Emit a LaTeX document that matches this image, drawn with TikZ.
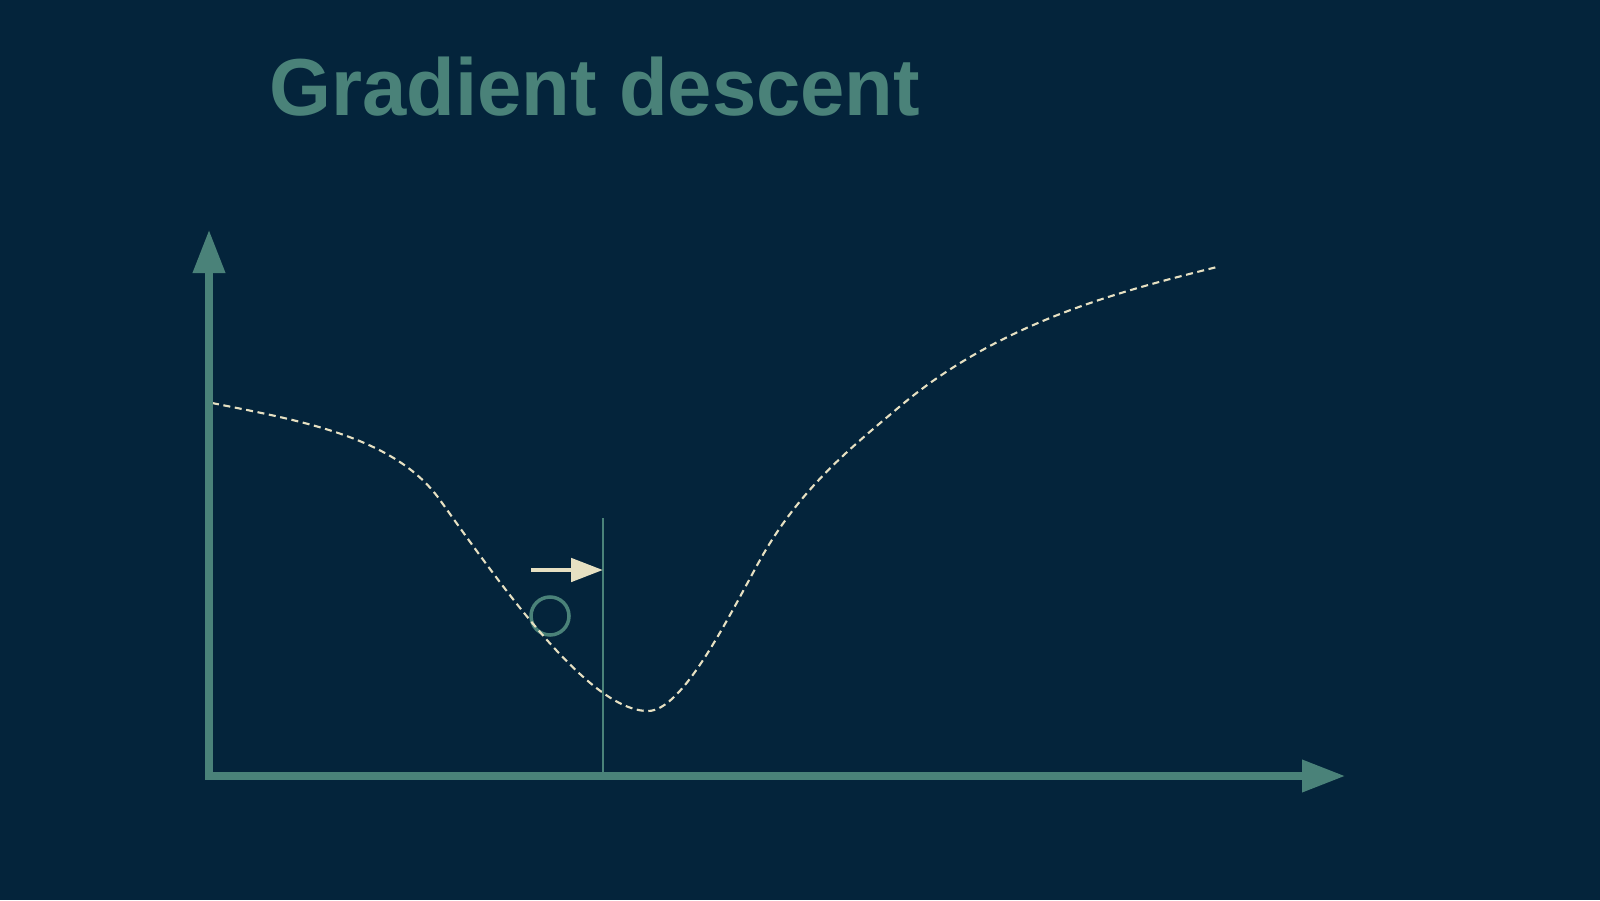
\documentclass[tikz,border=0pt]{standalone}
\usepackage{fontspec}
\setmainfont{Liberation Sans}
\usepackage{xcolor}
\usetikzlibrary{arrows.meta, positioning}
\definecolor{navy}{HTML}{04243B}
\definecolor{teal}{HTML}{4A8279}
\definecolor{cream}{HTML}{E6E0C2}
\tikzset{
axis/.style={draw=teal, line width=2pt, -{Triangle[length=0.43cm, width=0.31cm]}}, % the two axes
loss/.style={draw=cream, line width=0.6pt, dash pattern=on 2pt off 1.3pt}, % dashed loss curve
marker/.style={draw=teal, line width=1pt, circle, minimum size=0.38cm, inner sep=0pt}, % current position
stepline/.style={draw=teal, line width=0.5pt}, % thin vertical line
steparrow/.style={draw=cream, fill=cream, line width=1.4pt, -{Triangle[length=0.32cm, width=0.23cm]}}, % step direction
}

\begin{document}
\begin{tikzpicture}
        \fill[navy] (0,0) rectangle (16,9);
        \useasboundingbox (0,0) rectangle (16,9);

        \node[anchor=base west, text=teal, font=\bfseries\fontsize{23}{28}\selectfont, inner sep=0pt, xscale=0.985] (title) at (2.69,7.84) {Gradient descent};

        \coordinate (origin) at (2.09,1.24);
        \coordinate (ytop) at (2.09,6.70);
        \coordinate (xend) at (13.45,1.24);
        \coordinate (foot) at (6.03,1.24);
        \coordinate (head) at (6.03,3.82);
        \coordinate (from) at (5.31,3.30);
        \coordinate (to) at (6.03,3.30);
        \node[marker] (ball) at (5.50,2.84) {};

        % loss curve
        \draw[loss] (2.12,4.97) .. controls (3.02,4.79) and (3.95,4.63) .. (4.40,4.00)
                    .. controls (5.05,3.09) and (5.90,1.89) .. (6.48,1.89)
                    .. controls (6.83,1.89) and (7.30,2.86) .. (7.60,3.40)
                    .. controls (8.00,4.12) and (8.53,4.54) .. (8.98,4.92)
                    .. controls (9.98,5.77) and (11.17,6.08) .. (12.17,6.33);

        \draw[stepline] (foot) -- (head);
        \draw[steparrow] (from) -- (to);

        \draw[axis] ([yshift=-1pt]origin) -- (ytop);
        \draw[axis] ([xshift=-1pt]origin) -- (xend);
    \end{tikzpicture}
\end{document}
